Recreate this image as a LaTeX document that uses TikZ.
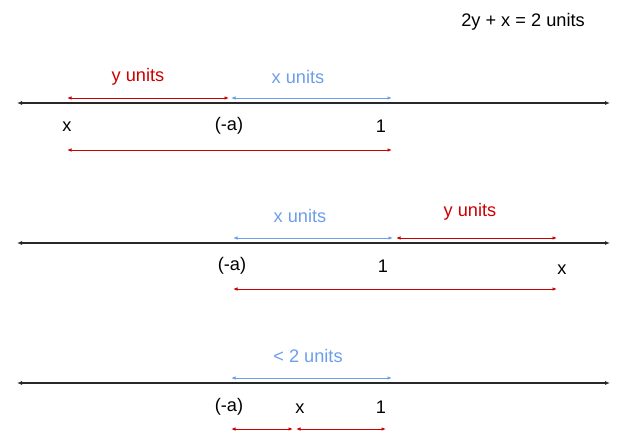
\documentclass[tikz,border=0pt]{standalone}
\usepackage{fontspec}
\setmainfont{Liberation Sans}
\usetikzlibrary{arrows.meta}
\definecolor{myred}{RGB}{204,0,0}
\definecolor{myblue}{RGB}{109,158,235}
\definecolor{axisgray}{RGB}{40,40,40}
\begin{document}
\begin{tikzpicture}[x=1pt,y=-1pt,
  axis/.style={draw=axisgray,line width=1.4pt,{Latex[length=5pt,width=4pt]}-{Latex[length=5pt,width=4pt]}},
  redarr/.style={draw=myred,line width=0.9pt,{Latex[length=4.5pt,width=3.5pt]}-{Latex[length=4.5pt,width=3.5pt]}},
  bluearr/.style={draw=myblue,line width=0.9pt,{Latex[length=4.5pt,width=3.5pt]}-{Latex[length=4.5pt,width=3.5pt]}},
  lbl/.style={inner sep=0pt,font=\fontsize{18.2}{21}\selectfont},
  redlbl/.style={lbl,text=myred},
  bluelbl/.style={lbl,text=myblue}]
\useasboundingbox (0,0) rectangle (621,432);
% title
\node[lbl] (eq) at (523,22) {2y + x = 2 units};
% ---------- row 1 ----------
\coordinate (a1l) at (17,103); \coordinate (a1r) at (610,103);
\draw[axis] (a1l) -- (a1r);
\coordinate (r1a) at (67,98); \coordinate (r1b) at (229,98);
\coordinate (b1a) at (231,98); \coordinate (b1b) at (392,98);
\draw[redarr] (r1a) -- (r1b);
\draw[bluearr] (b1a) -- (b1b);
\node[redlbl] (y1) at (138,77) {y units};
\node[bluelbl] (x1) at (298,77) {x units};
\node[lbl] (xl1) at (67,127) {x};
\node[lbl] (al1) at (229,126) {(-a)};
\node[lbl] (ol1) at (381,126) {1};
\coordinate (l1a) at (67,150); \coordinate (l1b) at (392,150);
\draw[redarr] (l1a) -- (l1b);
% ---------- row 2 ----------
\coordinate (a2l) at (17,243); \coordinate (a2r) at (610,243);
\draw[axis] (a2l) -- (a2r);
\coordinate (b2a) at (233,238); \coordinate (b2b) at (393,238);
\coordinate (r2a) at (396,238); \coordinate (r2b) at (557,238);
\draw[bluearr] (b2a) -- (b2b);
\draw[redarr] (r2a) -- (r2b);
\node[bluelbl] (x2) at (300,216) {x units};
\node[redlbl] (y2) at (470,212) {y units};
\node[lbl] (al2) at (232,266) {(-a)};
\node[lbl] (ol2) at (383,266) {1};
\node[lbl] (xl2) at (562,270) {x};
\coordinate (l2a) at (233,289); \coordinate (l2b) at (557,289);
\draw[redarr] (l2a) -- (l2b);
% ---------- row 3 ----------
\coordinate (a3l) at (17,383); \coordinate (a3r) at (610,383);
\draw[axis] (a3l) -- (a3r);
\coordinate (b3a) at (231,378); \coordinate (b3b) at (392,378);
\draw[bluearr] (b3a) -- (b3b);
\node[bluelbl] (u3) at (308,356) {< 2 units};
\node[lbl] (al3) at (229,407) {(-a)};
\node[lbl] (xl3) at (300,409) {x};
\node[lbl] (ol3) at (381,407) {1};
\coordinate (s1a) at (231,429); \coordinate (s1b) at (293,429);
\coordinate (s2a) at (296,429); \coordinate (s2b) at (386,429);
\draw[redarr] (s1a) -- (s1b);
\draw[redarr] (s2a) -- (s2b);
\end{tikzpicture}
\end{document}
